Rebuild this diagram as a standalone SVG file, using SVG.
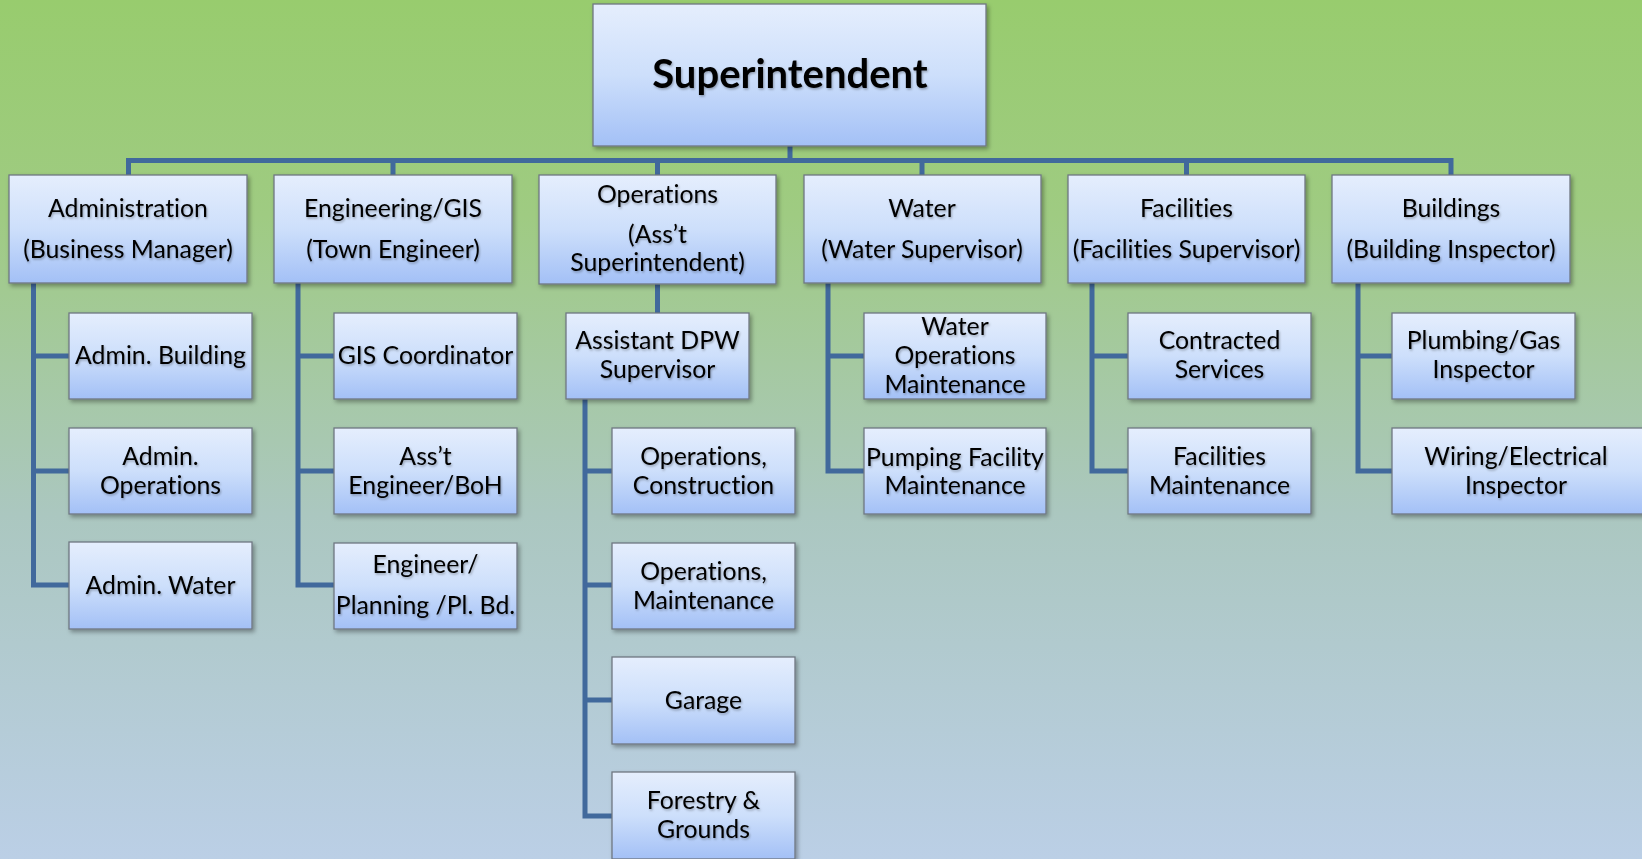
<svg xmlns="http://www.w3.org/2000/svg" width="1642" height="859" viewBox="0 0 1642 859">
<defs>
<linearGradient id="bg" x1="0" y1="0" x2="0" y2="1">
<stop offset="0" stop-color="#98cc6e"/>
<stop offset="0.25" stop-color="#9fcb82"/>
<stop offset="0.6" stop-color="#abc7c0"/>
<stop offset="1" stop-color="#bbcfe6"/>
</linearGradient>
<linearGradient id="box" x1="0" y1="0" x2="0" y2="1">
<stop offset="0" stop-color="#e5eefd"/>
<stop offset="0.5" stop-color="#cddffb"/>
<stop offset="1" stop-color="#a3c0f6"/>
</linearGradient>
<filter id="sh" x="-10%" y="-10%" width="125%" height="130%">
<feDropShadow dx="2" dy="2.5" stdDeviation="2" flood-color="#000" flood-opacity="0.35"/>
</filter>
<filter id="tsh" x="-5%" y="-20%" width="110%" height="150%">
<feDropShadow dx="1" dy="1.5" stdDeviation="1" flood-color="#000" flood-opacity="0.3"/>
</filter>
<style>
.b{fill:url(#box);stroke:#6f7782;stroke-width:1.3;filter:url(#sh)}
.t{font-family:Lato,"Liberation Sans",sans-serif;font-size:24.8px;fill:#000;text-anchor:middle;filter:url(#tsh);font-variant-ligatures:none}
.st{font-family:Lato,"Liberation Sans",sans-serif;font-size:40px;font-weight:bold;fill:#000;text-anchor:middle;filter:url(#tsh)}
.c{fill:none;stroke:#41699c;stroke-width:5;stroke-linejoin:miter}
</style>
</defs>
<rect x="0" y="0" width="1642" height="859" fill="url(#bg)"/>

<g id="connectors">
<path class="c" d="M790 146 V160.5 M128.5 175 V160.5 H1451 V175 M393 160.5 V175 M657.5 160.5 V175 M922 160.5 V175 M1186.5 160.5 V175"/>
<path class="c" d="M33.5 283 V585 H69 M33.5 356 H69 M33.5 471 H69"/>
<path class="c" d="M298 283 V585 H334 M298 356 H334 M298 471 H334"/>
<path class="c" d="M657.5 284 V313"/>
<path class="c" d="M585 399 V816 H612 M585 471 H612 M585 585 H612 M585 700 H612"/>
<path class="c" d="M828 283 V471 H864 M828 356 H864"/>
<path class="c" d="M1092 283 V471 H1128 M1092 356 H1128"/>
<path class="c" d="M1358 283 V471 H1392 M1358 356 H1392"/>
</g>

<g id="superintendent"><rect class="b" x="593" y="4" width="393" height="142"/><text class="st" x="790" y="88">Superintendent</text></g>

<g id="administration"><rect class="b" x="9" y="175" width="238" height="108"/><text class="t" x="128" y="217">Administration</text><text class="t" x="128" y="258">(Business Manager)</text></g>
<g id="engineering"><rect class="b" x="274" y="175" width="238" height="108"/><text class="t" x="393" y="217">Engineering/GIS</text><text class="t" x="393" y="258">(Town Engineer)</text></g>
<g id="operations"><rect class="b" x="539" y="175" width="237" height="109"/><text class="t" x="657.5" y="203">Operations</text><text class="t" x="657.5" y="243">(Ass’t</text><text class="t" x="657.5" y="271">Superintendent)</text></g>
<g id="water"><rect class="b" x="804" y="175" width="237" height="108"/><text class="t" x="922" y="217">Water</text><text class="t" x="922" y="258">(Water Supervisor)</text></g>
<g id="facilities"><rect class="b" x="1068" y="175" width="237" height="108"/><text class="t" x="1186.5" y="217">Facilities</text><text class="t" x="1186.5" y="258">(Facilities Supervisor)</text></g>
<g id="buildings"><rect class="b" x="1332" y="175" width="238" height="108"/><text class="t" x="1451" y="217">Buildings</text><text class="t" x="1451" y="258">(Building Inspector)</text></g>

<g id="admin-building"><rect class="b" x="69" y="313" width="183" height="86"/><text class="t" x="160.5" y="364">Admin. Building</text></g>
<g id="admin-operations"><rect class="b" x="69" y="428" width="183" height="86"/><text class="t" x="160.5" y="465">Admin.</text><text class="t" x="160.5" y="494">Operations</text></g>
<g id="admin-water"><rect class="b" x="69" y="542" width="183" height="87"/><text class="t" x="160.5" y="594">Admin. Water</text></g>

<g id="gis-coordinator"><rect class="b" x="334" y="313" width="183" height="86"/><text class="t" x="425.5" y="364">GIS Coordinator</text></g>
<g id="asst-engineer"><rect class="b" x="334" y="428" width="183" height="86"/><text class="t" x="425.5" y="465">Ass’t</text><text class="t" x="425.5" y="494">Engineer/BoH</text></g>
<g id="engineer-planning"><rect class="b" x="334" y="543" width="183" height="86"/><text class="t" x="425.5" y="573">Engineer/</text><text class="t" x="425.5" y="614">Planning /Pl. Bd.</text></g>

<g id="assistant-dpw"><rect class="b" x="566" y="313" width="183" height="86"/><text class="t" x="657.5" y="349">Assistant DPW</text><text class="t" x="657.5" y="378">Supervisor</text></g>
<g id="ops-construction"><rect class="b" x="612" y="428" width="183" height="86"/><text class="t" x="703.5" y="465">Operations,</text><text class="t" x="703.5" y="494">Construction</text></g>
<g id="ops-maintenance"><rect class="b" x="612" y="543" width="183" height="86"/><text class="t" x="703.5" y="580">Operations,</text><text class="t" x="703.5" y="609">Maintenance</text></g>
<g id="garage"><rect class="b" x="612" y="657" width="183" height="87"/><text class="t" x="703.5" y="709">Garage</text></g>
<g id="forestry"><rect class="b" x="612" y="772" width="183" height="87"/><text class="t" x="703.5" y="809">Forestry &amp;</text><text class="t" x="703.5" y="838">Grounds</text></g>

<g id="water-ops"><rect class="b" x="864" y="313" width="182" height="86"/><text class="t" x="955" y="335">Water</text><text class="t" x="955" y="364">Operations</text><text class="t" x="955" y="393">Maintenance</text></g>
<g id="pumping"><rect class="b" x="864" y="428" width="182" height="86"/><text class="t" x="955" y="466">Pumping Facility</text><text class="t" x="955" y="494">Maintenance</text></g>

<g id="contracted"><rect class="b" x="1128" y="313" width="183" height="86"/><text class="t" x="1219.5" y="349">Contracted</text><text class="t" x="1219.5" y="378">Services</text></g>
<g id="fac-maintenance"><rect class="b" x="1128" y="428" width="183" height="86"/><text class="t" x="1219.5" y="465">Facilities</text><text class="t" x="1219.5" y="494">Maintenance</text></g>

<g id="plumbing"><rect class="b" x="1392" y="313" width="183" height="86"/><text class="t" x="1483.5" y="349">Plumbing/Gas</text><text class="t" x="1483.5" y="378">Inspector</text></g>
<g id="wiring"><rect class="b" x="1392" y="428" width="252" height="86"/><text class="t" x="1516" y="465">Wiring/Electrical</text><text class="t" x="1516" y="494">Inspector</text></g>
</svg>
